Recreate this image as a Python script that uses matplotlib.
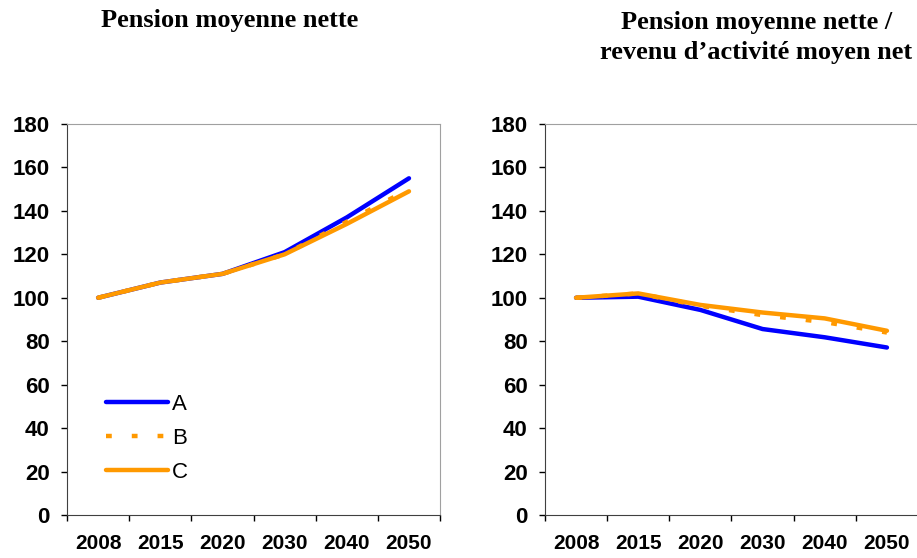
import matplotlib.pyplot as plt
import numpy as np

years = ['2008', '2015', '2020', '2030', '2040', '2050']

# pension moyenne nette (base 100 en 2008)
left_A = [100, 107, 111, 121, 137, 155]
left_B = [100, 107, 111, 120, 135, 150]
left_C = [100, 107, 111, 120, 134, 149]

# pension moyenne nette / revenu d'activite moyen net
right_A = [100, 100.5, 94.4, 85.6, 81.8, 77.1]
right_B = [100, 102, 96.3, 92, 88.8, 84]
right_C = [100, 102, 96.7, 93.2, 90.5, 84.8]

titles = ['Pension moyenne nette',
          'Pension moyenne nette /\nrevenu d\u2019activité moyen net']

blue = '#0000ff'
orange = '#ff9900'

fig = plt.figure(figsize=(9.17, 5.58), dpi=100)
ax1 = fig.add_axes([0.0731, 0.0771, 0.4068, 0.7007])
ax2 = fig.add_axes([0.5943, 0.0771, 0.4068, 0.7007])

x = np.arange(len(years))

def draw(ax, a, b, c):
    ax.plot(x, a, color=blue, lw=3.2, solid_capstyle='round', label='A')
    ax.plot(x, b, color=orange, lw=3.2, dashes=(1.3, 4.5), label='B')
    ax.plot(x, c, color=orange, lw=3.2, solid_capstyle='round', label='C')
    ax.set_xlim(-0.5, len(years) - 0.5)
    ax.set_ylim(0, 180)
    ax.set_yticks(range(0, 181, 20))
    ax.set_xticks(np.arange(-0.5, len(years), 1.0))
    ax.set_xticklabels([])
    ax.set_xticks(x, minor=True)
    ax.set_xticklabels(years, minor=True, fontsize=15, fontweight='bold',
                       family='Liberation Sans')
    ax.tick_params(axis='x', which='minor', length=0, pad=13.5)
    ax.tick_params(axis='x', which='major', length=4.5, width=1, direction='out')
    ax.tick_params(axis='y', length=4.5, width=1, direction='out', pad=8)
    for lab in ax.get_yticklabels():
        lab.set_fontsize(16)
        lab.set_fontweight('bold')
        lab.set_family('Liberation Sans')
    ax.spines['top'].set_color('#a0a0a0')
    ax.spines['right'].set_color('#a0a0a0')
    ax.spines['left'].set_color('#404040')
    ax.spines['bottom'].set_color('#404040')

draw(ax1, left_A, left_B, left_C)
draw(ax2, right_A, right_B, right_C)

ax1.legend(loc='lower left', bbox_to_anchor=(0.05, 0.03), frameon=False,
           handlelength=2.8, handletextpad=0.2, labelspacing=0.6,
           prop={'family': 'Liberation Sans', 'size': 16})

fig.text(0.250, 0.964, titles[0], ha='center', va='center',
         family='Liberation Serif', fontweight='bold', fontsize=19)
fig.text(0.825, 0.933, titles[1], ha='center', va='center',
         family='Liberation Serif', fontweight='bold', fontsize=19,
         linespacing=1.38)

fig.savefig('out.png', dpi=100)
